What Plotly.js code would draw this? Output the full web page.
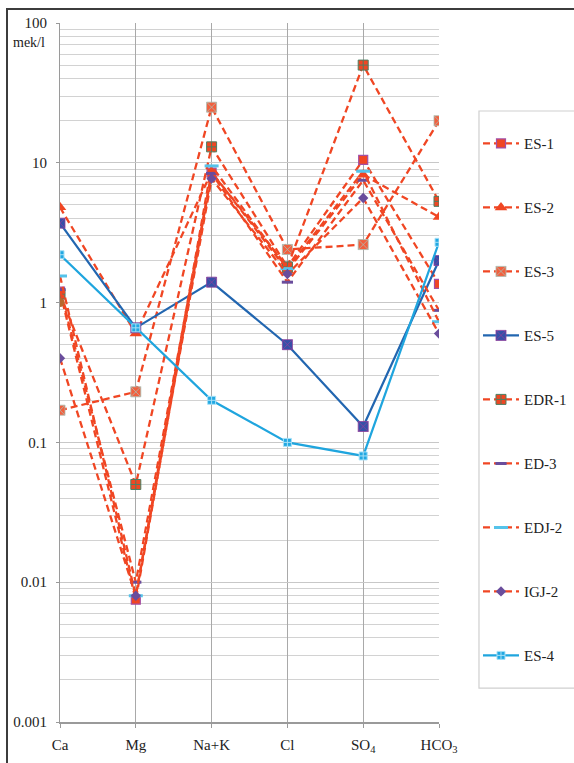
<!DOCTYPE html>
<html><head><meta charset="utf-8">
<script src="https://cdn.plot.ly/plotly-3.0.1.min.js"></script>
<style>
html,body{margin:0;padding:0;background:#fff;overflow:hidden;}
#chart{width:574px;height:763px;}
#frame{position:absolute;left:6px;top:8px;width:640px;height:820px;border-left:2px solid #3c3c3c;border-top:2px solid #3c3c3c;pointer-events:none;}
</style></head><body>
<div id="chart"></div><div id="frame"></div>
<script>
// Categories (ions)
const categories = ["Ca", "Mg", "Na+K", "Cl", "SO<sub>4</sub>", "HCO<sub>3</sub>"];
// Series values (mek/l)
const ES1  = [1.2, 0.0075, 8.5, 1.8, 10.5, 1.36];
const ES2  = [4.8, 0.6, 8.6, 1.7, 8.2, 4.1];
const ES3  = [0.17, 0.23, 25, 2.4, 2.6, 20];
const ES5  = [3.7, 0.66, 1.4, 0.5, 0.13, 2.0];
const EDR1 = [1.15, 0.05, 13, 1.8, 50, 5.3];
const ED3  = [1.24, 0.01, 8.4, 1.4, 7.5, 0.88];
const EDJ2 = [1.55, 0.008, 9.5, 1.75, 8.7, 0.73];
const IGJ2 = [0.4, 0.008, 7.7, 1.6, 5.6, 0.6];
const ES4  = [2.2, 0.66, 0.2, 0.1, 0.08, 2.7];
const extraCa = [1.0];
// Tick labels
const yTickVals = [0.001, 0.01, 0.1, 1, 10, 100];
const yTickText = ["0.001", "0.01", "0.1", "1", "10", "100"];

const RED = "#f04623";
const dashed = {color: RED, width: 2.3, dash: "7px,4px"};
const serif = "'Liberation Serif', 'Times New Roman', serif";

function tr(name, y, line, marker, group) {
  return {type: "scatter", mode: "lines+markers", name: name, x: categories, y: y,
          line: line, marker: marker, legendgroup: group};
}

const traces = [
  tr("ES-1", ES1, dashed, {symbol: "square", size: 9, color: RED, line: {color: "#a24fa6", width: 1.2}}, "g1"),
  tr("ES-2", ES2, dashed, {symbol: "triangle-up", size: 11, color: RED, line: {width: 0}}, "g2"),
  tr("ES-3", ES3, dashed, {symbol: "square-x", size: 10, color: "#f2603e", line: {color: "#a9bcb3", width: 0.8}}, "g3"),
  tr("ES-5", ES5, {color: "#2266b0", width: 2.2}, {symbol: "square-x", size: 10, color: "#3550a8", line: {color: "#8e3f9c", width: 0.8}}, "g4"),
  tr("EDR-1", EDR1, dashed, {symbol: "square-cross", size: 10, color: RED, line: {color: "#4c7f62", width: 1}}, "g5"),
  tr("ED-3", ED3, dashed, {symbol: "line-ew", size: 8, color: "#6a4d9c", line: {color: "#6a4d9c", width: 3}}, "g6"),
  tr("EDJ-2", EDJ2, dashed, {symbol: "line-ew", size: 10, color: "#55c3ea", line: {color: "#55c3ea", width: 3}}, "g7"),
  tr("IGJ-2", IGJ2, dashed, {symbol: "diamond", size: 8, color: "#6a4d9c", line: {width: 0}}, "g8"),
  tr("ES-4", ES4, {color: "#1fa5de", width: 2.2}, {symbol: "square-cross", size: 8, color: "#22a8e2", line: {color: "#a6e0f7", width: 1}}, "g9"),
  {type: "scatter", mode: "markers", x: [categories[0]], y: extraCa, showlegend: false,
   marker: {symbol: "circle", size: 9, color: "#b8682e"}}
];

const minorVals = [];
for (let e = -3; e < 2; e++) {
  for (let m = 2; m <= 9; m++) minorVals.push(m * Math.pow(10, e));
}

const layout = {
  width: 574, height: 763,
  margin: {l: 60, r: 135, t: 23, b: 41, autoexpand: false},
  paper_bgcolor: "#fff", plot_bgcolor: "#fff",
  font: {family: serif, size: 15, color: "#222"},
  showlegend: true,
  xaxis: {
    type: "category", range: [0, 5], showgrid: true, gridcolor: "#a9a9a9", gridwidth: 1,
    showline: true, linecolor: "#9a9a9a", linewidth: 1.5, mirror: false,
    ticks: "outside", ticklen: 4, tickcolor: "#9a9a9a", ticklabelstandoff: 4,
    tickfont: {family: serif, size: 15, color: "#222"}, zeroline: false, fixedrange: true,
    automargin: false
  },
  yaxis: {
    type: "log", range: [-3, 2], tickvals: yTickVals, ticktext: yTickText,
    showgrid: true, gridcolor: "#c8c8c8", gridwidth: 1.2,
    showline: true, linecolor: "#9a9a9a", linewidth: 1,
    ticks: "outside", ticklen: 3, tickcolor: "#9a9a9a", ticklabelstandoff: 6,
    tickfont: {family: serif, size: 15, color: "#222"},
    minor: {tickvals: minorVals, showgrid: true, gridcolor: "#d2d2d2", gridwidth: 1, ticks: ""},
    zeroline: false, fixedrange: true, automargin: false
  },
  legend: {
    x: 1.1029, xanchor: "left", y: 0.851, yanchor: "top",
    borderwidth: 0, bgcolor: "rgba(0,0,0,0)",
    font: {family: serif, size: 15, color: "#222"},
    traceorder: "grouped", tracegroupgap: 41.5, itemwidth: 36,
    itemclick: false, itemdoubleclick: false
  },
  shapes: [
    {type: "rect", xref: "paper", yref: "paper", x0: 1.1055, x1: 1.7, y0: 0.0486, y1: 0.8741,
     line: {color: "#cfcfcf", width: 1.2}, fillcolor: "rgba(0,0,0,0)", layer: "below"}
  ],
  annotations: [
    {xref: "paper", yref: "paper", x: -0.034, y: 0.972, xanchor: "right", yanchor: "middle",
     text: "mek/l", showarrow: false, font: {family: serif, size: 14, color: "#222"}}
  ]
};

Plotly.newPlot("chart", traces, layout, {staticPlot: true, displayModeBar: false});
</script>
</body></html>
